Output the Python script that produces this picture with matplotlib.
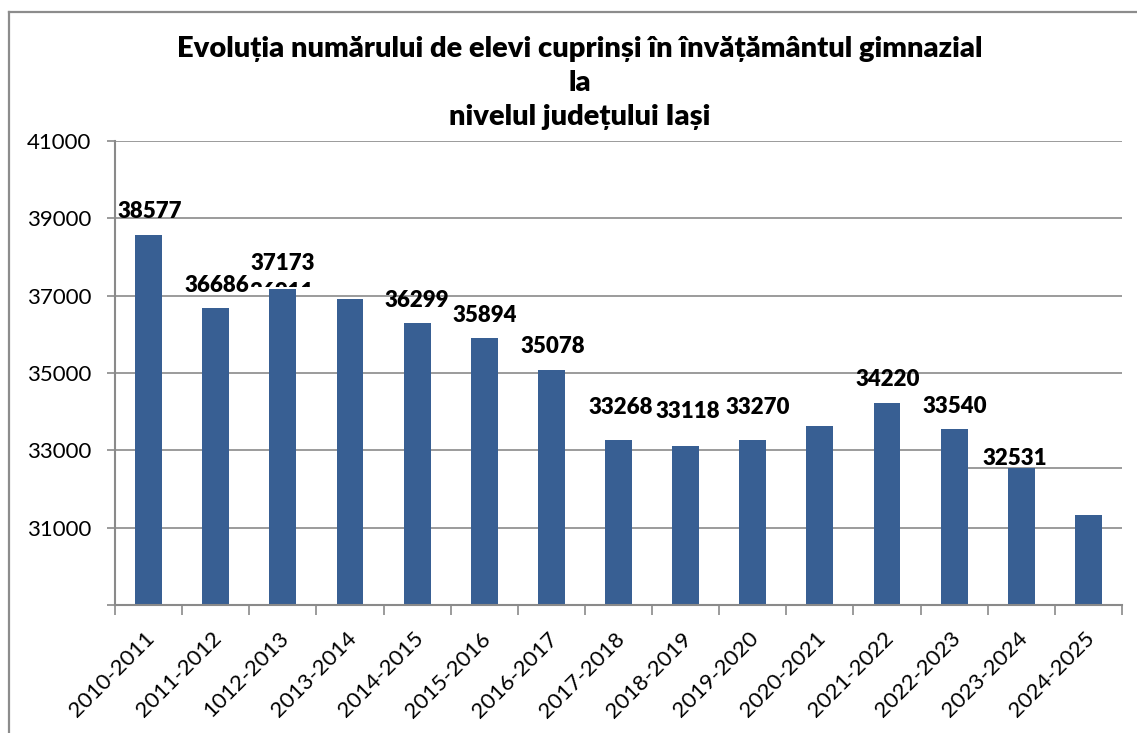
import matplotlib
matplotlib.use("Agg")
import matplotlib.pyplot as plt
from matplotlib.lines import Line2D
from matplotlib.patches import Rectangle
from matplotlib import transforms

plt.rcParams['font.family'] = ['Lato', 'DejaVu Sans']

categories = ["2010-2011", "2011-2012", "1012-2013", "2013-2014", "2014-2015",
              "2015-2016", "2016-2017", "2017-2018", "2018-2019", "2019-2020",
              "2020-2021", "2021-2022", "2022-2023", "2023-2024", "2024-2025"]
values = [38577, 36686, 37173, 36911, 36299, 35894, 35078, 33268, 33118, 33270,
          33630, 34220, 33540, 32531, 31330]
show_label = [True, True, True, True, True, True, True, True, True, True,
              False, True, True, True, False]
y_ticks = [29000, 31000, 33000, 35000, 37000, 39000, 41000]
y_tick_labels = ["", "31000", "33000", "35000", "37000", "39000", "41000"]
title = ("Evoluția numărului de elevi cuprinși în învățământul gimnazial\n"
         "la\nnivelul județului Iași")

# label placement tweaks (pixels: dx, baseline height above bar top)
label_offsets = [(1, 17), (1, 16), (0, 19), (-68, 0), (0, 16), (1, 16), (1, 17),
                 (2, 26), (2, 28), (5, 26), (0, 16), (1, 17), (1, 16.5), (-6, 3.5), (0, 16)]

W, H = 1137, 733
fig = plt.figure(figsize=(W / 100, H / 100), dpi=100)
ax = fig.add_axes([115 / W, (H - 605) / H, (1122 - 115) / W, (605 - 141) / H])

bar_color = '#385F93'
grid_color = '#8A8A8A'
x = list(range(len(categories)))
ax.bar(x, values, width=0.40, color=bar_color, zorder=3)

ax.set_xlim(-0.5, len(categories) - 0.5)
ax.set_ylim(29000, 41000)

# grid
for yt in y_ticks[1:]:
    ax.axhline(yt, color=grid_color, lw=1.2, zorder=1)
# artefact near last bars: white patch over gridline and a stray line
ax.add_patch(Rectangle((12.1, 32560), 2.4, 600, facecolor='white', edgecolor='none', zorder=1.5))
ax.plot([12.1, 14.5], [32545, 32545], color=grid_color, lw=1.2, zorder=1.6)

ax.set_yticks(y_ticks)
ax.set_yticklabels(y_tick_labels, fontsize=16)
ax.tick_params(axis='y', length=6, width=1.2, color=grid_color, pad=11)

ax.set_xticks(x)
ax.set_xticklabels(categories, fontsize=16, rotation=45, ha='right', va='center',
                   rotation_mode='anchor')
ax.set_xticks([i - 0.5 for i in range(len(categories) + 1)], minor=True)
ax.tick_params(axis='x', which='major', length=0, pad=22)
ax.tick_params(axis='x', which='minor', length=7, width=1.2, color=grid_color)
shift = transforms.ScaledTranslation(3 / 100, 0, fig.dpi_scale_trans)
for lbl in ax.get_xticklabels():
    lbl.set_transform(lbl.get_transform() + shift)

for s in ['top', 'right']:
    ax.spines[s].set_visible(False)
for s in ['left', 'bottom']:
    ax.spines[s].set_color(grid_color)
    ax.spines[s].set_linewidth(1.5)
    ax.spines[s].set_zorder(4)

# data labels
for i, v in enumerate(values):
    if not show_label[i]:
        continue
    dx, dy = label_offsets[i]
    t = ax.annotate(f"{v}", xy=(i, v), xytext=(dx, dy), textcoords='offset pixels',
                    ha='center', va='baseline', fontsize=16, fontweight='heavy',
                    color='black', zorder=5, annotation_clip=False)
    if i == 3:
        clip = Rectangle((0, H - 287), W, 300, transform=transforms.IdentityTransform())
        t.set_clip_path(clip)

fig.text(579.5 / W, 1 - 83 / H, title, ha='center', va='center', fontsize=21,
         fontweight='heavy', linespacing=1.36)

# outer frame
fig.add_artist(Line2D([9 / W, 9 / W], [0, 1 - 12 / H], transform=fig.transFigure,
                      color='#8C8C8C', lw=1.6))
fig.add_artist(Line2D([9 / W, 1], [1 - 12 / H, 1 - 12 / H], transform=fig.transFigure,
                      color='#8C8C8C', lw=1.6))

fig.savefig("out.png", dpi=100)
